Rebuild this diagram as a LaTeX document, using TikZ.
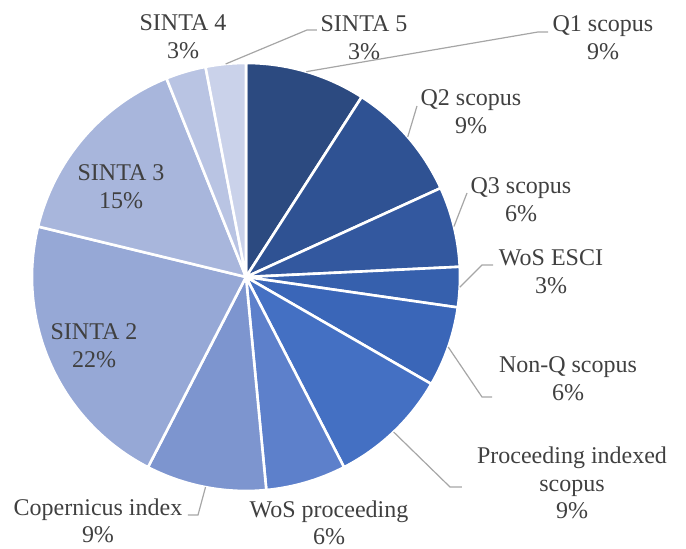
\documentclass[tikz,border=0pt]{standalone}
\usepackage{fontspec}
\setmainfont{Liberation Serif}
\definecolor{qonecol}{HTML}{2C4A80}
\definecolor{qtwocol}{HTML}{2F5293}
\definecolor{qthreecol}{HTML}{33589F}
\definecolor{escicol}{HTML}{3660AD}
\definecolor{nonqcol}{HTML}{3A66B8}
\definecolor{proccol}{HTML}{4470C3}
\definecolor{wosproccol}{HTML}{5D80CB}
\definecolor{copercol}{HTML}{7D95CF}
\definecolor{sintatwocol}{HTML}{96A8D6}
\definecolor{sintathreecol}{HTML}{A8B6DC}
\definecolor{sintafourcol}{HTML}{B9C4E3}
\definecolor{sintafivecol}{HTML}{CAD2EA}
\definecolor{labelgray}{HTML}{404040}
\definecolor{leadergray}{HTML}{A6A6A6}

\begin{document}
\begin{tikzpicture}[x=0.5pt, y=0.5pt,
  slice/.style={draw=white, line width=1.3pt, line join=round},
  lbl/.style={text=labelgray, font=\fontsize{12}{13.8}\selectfont, align=center, inner sep=0pt},
  leader/.style={draw=leadergray, line width=0.6pt}]
\useasboundingbox (-246,-272) rectangle (440,277);

% Slices, clockwise from the top (33 papers, 10.909 deg each)
\fill[fill=qonecol, slice] (0,0) -- (90:214) arc (90:57.27:214) -- cycle;
\fill[fill=qtwocol, slice] (0,0) -- (57.27:214) arc (57.27:24.55:214) -- cycle;
\fill[fill=qthreecol, slice] (0,0) -- (24.55:214) arc (24.55:2.73:214) -- cycle;
\fill[fill=escicol, slice] (0,0) -- (2.73:214) arc (2.73:-8.18:214) -- cycle;
\fill[fill=nonqcol, slice] (0,0) -- (-8.18:214) arc (-8.18:-30:214) -- cycle;
\fill[fill=proccol, slice] (0,0) -- (-30:214) arc (-30:-62.73:214) -- cycle;
\fill[fill=wosproccol, slice] (0,0) -- (-62.73:214) arc (-62.73:-84.55:214) -- cycle;
\fill[fill=copercol, slice] (0,0) -- (-84.55:214) arc (-84.55:-117.27:214) -- cycle;
\fill[fill=sintatwocol, slice] (0,0) -- (-117.27:214) arc (-117.27:-193.64:214) -- cycle;
\fill[fill=sintathreecol, slice] (0,0) -- (-193.64:214) arc (-193.64:-248.18:214) -- cycle;
\fill[fill=sintafourcol, slice] (0,0) -- (-248.18:214) arc (-248.18:-259.09:214) -- cycle;
\fill[fill=sintafivecol, slice] (0,0) -- (-259.09:214) arc (-259.09:-270:214) -- cycle;

% Labels
\node[lbl] (sintafourlbl) at (-63,240) {SINTA 4\\3\%};
\node[lbl] (sintafivelbl) at (118,239) {SINTA 5\\3\%};
\node[lbl] (qonelbl) at (357,239) {Q1 scopus\\9\%};
\node[lbl] (qtwolbl) at (225,165) {Q2 scopus\\9\%};
\node[lbl] (qthreelbl) at (275,77) {Q3 scopus\\6\%};
\node[lbl] (escilbl) at (305,5) {WoS ESCI\\3\%};
\node[lbl] (nonqlbl) at (322,-102) {Non-Q scopus\\6\%};
\node[lbl] (proclbl) at (326,-206) {Proceeding indexed\\scopus\\9\%};
\node[lbl] (wosproclbl) at (83,-246) {WoS proceeding\\6\%};
\node[lbl] (coperlbl) at (-148,-244) {Copernicus index\\9\%};
\node[lbl] (sintathreelbl) at (-125,90) {SINTA 3\\15\%};
\node[lbl] (sintatwolbl) at (-152,-69) {SINTA 2\\22\%};

% Leader lines
\coordinate (sintafivetip) at (95.45:214);
\coordinate (sintafivebend) at (61,247);
\coordinate (sintafiveend) at (71,247);
\coordinate (qonetip) at (73.64:214);
\coordinate (qonebend) at (292,245);
\coordinate (qoneend) at (302,245);
\coordinate (qtwotip) at (40.9:214);
\coordinate (qtwoend) at (171,171);
\coordinate (qthreetip) at (13.64:214);
\coordinate (qthreeend) at (221,84);
\coordinate (escitip) at (-2.73:214);
\coordinate (escibend) at (236,12);
\coordinate (esciend) at (247,12);
\coordinate (nonqtip) at (-19.1:214);
\coordinate (nonqbend) at (236,-120);
\coordinate (nonqend) at (246,-120);
\coordinate (proctip) at (-46.4:214);
\coordinate (procbend) at (204,-210);
\coordinate (procend) at (216,-210);
\coordinate (copertip) at (-100.9:214);
\coordinate (coperbend) at (-48,-238);
\coordinate (coperend) at (-58,-238);
\draw[leader] (sintafivetip) -- (sintafivebend) -- (sintafiveend);
\draw[leader] (qonetip) -- (qonebend) -- (qoneend);
\draw[leader] (qtwotip) -- (qtwoend);
\draw[leader] (qthreetip) -- (qthreeend);
\draw[leader] (escitip) -- (escibend) -- (esciend);
\draw[leader] (nonqtip) -- (nonqbend) -- (nonqend);
\draw[leader] (proctip) -- (procbend) -- (procend);
\draw[leader] (copertip) -- (coperbend) -- (coperend);
\end{tikzpicture}
\end{document}
